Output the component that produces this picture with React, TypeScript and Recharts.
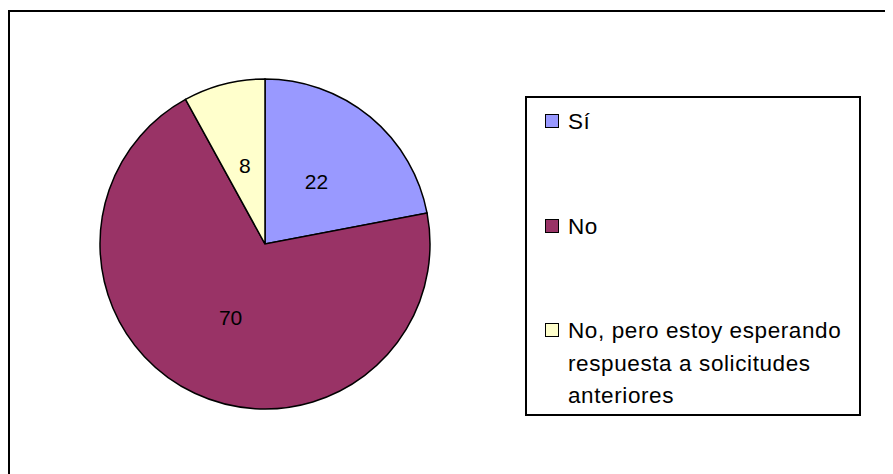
import React from 'react';
import { PieChart, Pie, Cell, Legend } from 'recharts';

const categories = ['Sí', 'No', 'No, pero estoy esperando respuesta a solicitudes anteriores'];
const values = [22, 70, 8];
const colors = ['#9999FF', '#993366', '#FFFFCC'];

const data = categories.map((name, i) => ({ name, value: values[i], fill: colors[i] }));

const RAD = Math.PI / 180;
const FONT = "Arial, 'Liberation Sans', sans-serif";

const renderLabel = (props: any) => {
  const { cx, cy, midAngle, outerRadius, value } = props;
  const r = outerRadius * 0.49;
  const x = cx + r * Math.cos(-midAngle * RAD);
  const y = cy + r * Math.sin(-midAngle * RAD);
  return (
    <text x={x} y={y} textAnchor="middle" dominantBaseline="central" fontSize={21} fill="#000" fontFamily={FONT}>
      {value}
    </text>
  );
};

const renderLegend = () => {
  const items = categories.map((c, i) => ({ label: c, color: colors[i] }));
  return (
    <div
      style={{
        boxSizing: 'border-box',
        width: 336,
        height: 320,
        border: '2px solid #000',
        background: '#fff',
        paddingTop: 8,
        fontFamily: FONT,
        fontSize: 22.5,
        lineHeight: '32.5px',
        letterSpacing: '0.6px',
        color: '#000',
        display: 'flex',
        flexDirection: 'column',
        gap: 72,
      }}
    >
      {items.map((it, i) => (
        <div key={i} style={{ position: 'relative', paddingLeft: 41, width: 292, textAlign: 'left' }}>
          <span
            style={{
              position: 'absolute',
              left: 18,
              top: 8,
              width: 14,
              height: 14,
              boxSizing: 'border-box',
              border: '1.5px solid #000',
              background: it.color,
            }}
          />
          {it.label}
        </div>
      ))}
    </div>
  );
};

export default function App() {
  return (
    <div style={{ position: 'relative', width: 885, height: 466, overflow: 'hidden', background: '#fff' }}>
      <div
        style={{
          position: 'absolute',
          left: 0,
          top: 2,
          width: 1000,
          height: 1000,
          borderLeft: '2px solid #000',
          borderTop: '2px solid #000',
        }}
      />
      <div style={{ position: 'absolute', left: 0, top: 0 }}>
        <PieChart width={885} height={466} margin={{ top: 0, right: 0, bottom: 0, left: 0 }}>
          <Pie
            data={data}
            dataKey="value"
            nameKey="name"
            cx={257}
            cy={236}
            outerRadius={165}
            startAngle={90}
            endAngle={-270}
            stroke="#000"
            strokeWidth={1.5}
            label={renderLabel}
            labelLine={false}
            isAnimationActive={false}
          >
            {data.map((d, i) => (
              <Cell key={i} fill={colors[i]} stroke="#000" strokeWidth={1.5} />
            ))}
          </Pie>
          <Legend
            layout="vertical"
            align="right"
            verticalAlign="middle"
            content={renderLegend}
            wrapperStyle={{ position: 'absolute', left: 517, top: 88, width: 336, height: 320 }}
          />
        </PieChart>
      </div>
    </div>
  );
}
